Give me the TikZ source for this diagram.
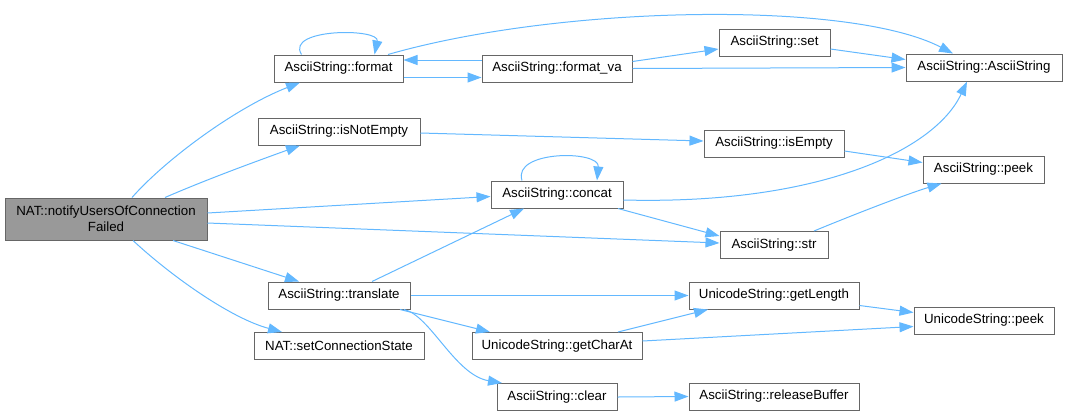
\documentclass[tikz,border=0pt]{standalone}
\usepackage{fontspec}
\setmainfont{Liberation Sans}
\usetikzlibrary{arrows.meta}
\definecolor{edgec}{HTML}{63B8FF}
\definecolor{bord}{HTML}{666666}
\definecolor{rootf}{HTML}{999999}
\begin{document}
\begin{tikzpicture}[x=1pt,y=-1pt,
  box/.style={draw=bord, fill=white, line width=1pt, minimum height=27pt, inner sep=0pt,
    font=\fontsize{13.3}{16}\selectfont},
  rootbox/.style={box, fill=rootf, minimum height=42pt, align=center},
  edge/.style={draw=edgec, line width=1pt, -{Triangle[length=14pt,width=10pt]}}]
\useasboundingbox (0,0) rectangle (1067,416);
% nodes
\node[rootbox, minimum width=202pt] (notify) at (106,219) {NAT::notifyUsersOfConnection\\Failed};
\node[box, minimum width=129pt] (format) at (338.5,68.5) {AsciiString::format};
\node[box, minimum width=150pt] (formatva) at (557,68.5) {AsciiString::format\_va};
\node[box, minimum width=111pt] (set) at (774.5,42.5) {AsciiString::set};
\node[box, minimum width=156pt] (ascii) at (984,67.5) {AsciiString::AsciiString};
\node[box, minimum width=162pt] (isnotempty) at (339,131.5) {AsciiString::isNotEmpty};
\node[box, minimum width=140pt] (isempty) at (774,143.5) {AsciiString::isEmpty};
\node[box, minimum width=121pt] (peek) at (983.5,169.5) {AsciiString::peek};
\node[box, minimum width=132pt] (concat) at (557,194.5) {AsciiString::concat};
\node[box, minimum width=108pt] (str) at (774,245) {AsciiString::str};
\node[box, minimum width=142pt] (translate) at (339,295.5) {AsciiString::translate};
\node[box, minimum width=170pt] (setcs) at (339,346) {NAT::setConnectionState};
\node[box, minimum width=170pt] (getcharat) at (557,346) {UnicodeString::getCharAt};
\node[box, minimum width=120pt] (clear) at (557,397) {AsciiString::clear};
\node[box, minimum width=170pt] (getlength) at (774,295.5) {UnicodeString::getLength};
\node[box, minimum width=140pt] (upeek) at (984,320.5) {UnicodeString::peek};
\node[box, minimum width=170pt] (release) at (774,396.5) {AsciiString::releaseBuffer};
% edges
\draw[edge] ([shift={(26,0)}]notify.north) .. controls (165,160) and (235,108) .. ([shift={(-38.5,0)}]format.south);
\draw[edge] ([shift={(59,0)}]notify.north) .. controls (210,178) and (260,160) .. ([shift={(-39,0)}]isnotempty.south);
\draw[edge] ([shift={(0,-6)}]notify.east) -- ([shift={(0,2)}]concat.west);
\draw[edge] ([shift={(0,4)}]notify.east) -- ([shift={(0,-2)}]str.west);
\draw[edge] ([shift={(67,0)}]notify.south) -- ([shift={(-40,0)}]translate.north);
\draw[edge] ([shift={(27,0)}]notify.south) .. controls (170,275) and (230,318) .. ([shift={(-57,0)}]setcs.north);
\draw[edge] ([shift={(-37,0)}]format.north) .. controls (285,28) and (380,28) .. ([shift={(36,0)}]format.north);
\draw[edge] ([shift={(0,9)}]format.east) -- ([shift={(0,9)}]formatva.west);
\draw[edge] ([shift={(0,-8.5)}]formatva.west) -- ([shift={(0,-8.5)}]format.east);
\draw[edge] ([shift={(49.5,0)}]format.north) .. controls (560,5) and (850,0) .. ([shift={(-31,0)}]ascii.north);
\draw[edge] ([shift={(0,-7)}]formatva.east) -- ([shift={(0,6.5)}]set.west);
\draw[edge] (formatva.east) -- (ascii.west);
\draw[edge] ([shift={(0,6.5)}]set.east) -- ([shift={(0,-8)}]ascii.west);
\draw[edge] ([shift={(0,1.5)}]isnotempty.east) -- ([shift={(0,-2.5)}]isempty.west);
\draw[edge] ([shift={(0,7.5)}]isempty.east) -- ([shift={(0,-7)}]peek.west);
\draw[edge] ([shift={(-35,0)}]concat.north) .. controls (512,150) and (600,150) .. ([shift={(40,0)}]concat.north);
\draw[edge] ([shift={(0,5.5)}]concat.east) .. controls (820,205) and (935,150) .. ([shift={(-17,0)}]ascii.south);
\draw[edge] ([shift={(61,0)}]concat.south) -- ([shift={(0,-9)}]str.west);
\draw[edge] ([shift={(40,0)}]str.north) .. controls (860,212) and (910,193) .. ([shift={(-42,0)}]peek.south);
\draw[edge] ([shift={(33,0)}]translate.north) -- ([shift={(-33,0)}]concat.south);
\draw[edge] (translate.east) -- (getlength.west);
\draw[edge] ([shift={(61,0)}]translate.south) -- ([shift={(-67,0)}]getcharat.north);
\draw[edge] ([shift={(65,0)}]translate.south) .. controls (430,315) and (455,375) .. ([shift={(-55,0)}]clear.north);
\draw[edge] ([shift={(61,0)}]getcharat.north) -- ([shift={(-66,0)}]getlength.south);
\draw[edge] ([shift={(0,-5)}]getcharat.east) -- ([shift={(0,6)}]upeek.west);
\draw[edge] ([shift={(0,10)}]getlength.east) -- ([shift={(0,-8)}]upeek.west);
\draw[edge] (clear.east) -- (release.west);
\end{tikzpicture}
\end{document}
